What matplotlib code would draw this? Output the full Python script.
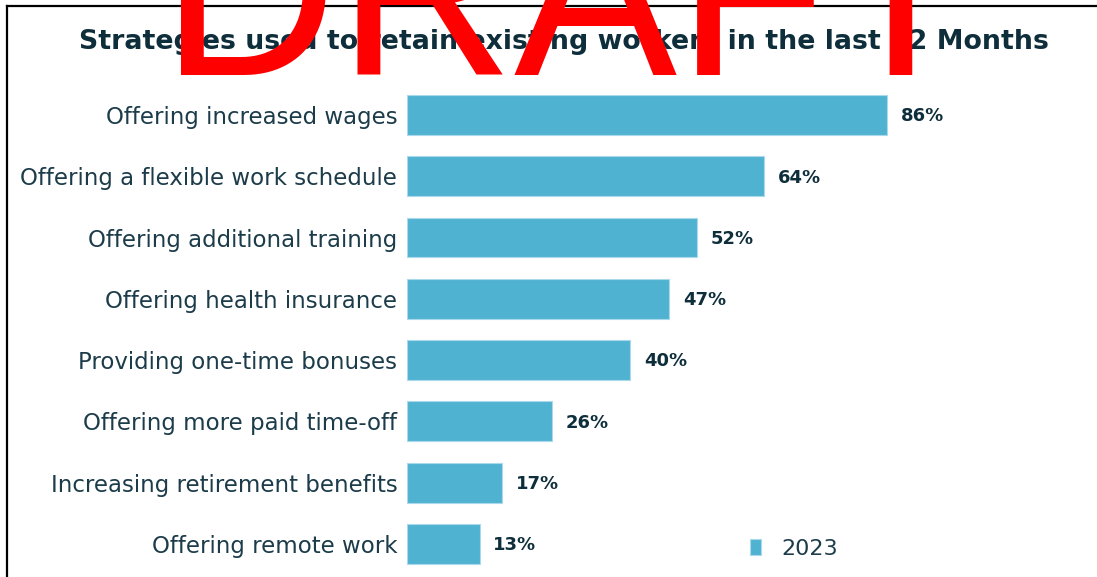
import matplotlib.pyplot as plt
from matplotlib.lines import Line2D

# survey results, share of respondents (%)
strategies = [
    "Offering increased wages",
    "Offering a flexible work schedule",
    "Offering additional training",
    "Offering health insurance",
    "Providing one-time bonuses",
    "Offering more paid time-off",
    "Increasing retirement benefits",
    "Offering remote work",
]
shares = [86, 64, 52, 47, 40, 26, 17, 13]
year_label = "2023"

bar_color = "#50b2d1"
dark = "#0e2e3b"
label_color = "#1c3c4a"

W, H = 1097, 577
fig = plt.figure(figsize=(W / 100, H / 100), dpi=100)
fig.patch.set_facecolor("white")

# bar area: left edge at ~407px, rows from ~84px to ~575px
ax = fig.add_axes([407 / W, 1 - 574.6 / H, 558 / W, 490.3 / H])
ypos = list(range(len(strategies)))
bars = ax.barh(ypos, shares, height=0.65, color=bar_color,
               edgecolor="#a9d9ea", linewidth=0.8, label=year_label)
ax.set_xlim(0, 100)
ax.set_ylim(len(strategies) - 0.5, -0.5)

ax.set_yticks(ypos)
ax.set_yticklabels(strategies, fontsize=16.5, color=label_color,
                   family="DejaVu Sans")
ax.tick_params(axis="y", length=0, pad=7)
ax.set_xticks([])
for s in ax.spines.values():
    s.set_visible(False)

for b, v in zip(bars, shares):
    ax.annotate(f"{v}%", (b.get_width(), b.get_y() + b.get_height() / 2),
                xytext=(10, -1), textcoords="offset points",
                ha="left", va="center", fontsize=13, fontweight="bold",
                color=dark)

ax.legend(loc="center left", bbox_to_anchor=(750 / W, 1 - 549 / H),
          bbox_transform=fig.transFigure, frameon=False, fontsize=16,
          handlelength=0.5, handleheight=0.73, handletextpad=0.9,
          borderpad=0, borderaxespad=0, labelcolor=label_color)

# title
fig.text(564 / W, 1 - 49 / H,
         "Strategies used to retain existing workers in the last 12 Months",
         ha="center", va="baseline", fontsize=19.3, fontweight="bold",
         color=dark, family="DejaVu Sans")

# frame lines
fig.add_artist(Line2D([7 / W, 7 / W], [0, 1 - 6 / H], color="black",
                      lw=1.6, transform=fig.transFigure))
fig.add_artist(Line2D([7 / W, 1], [1 - 6 / H, 1 - 6 / H], color="black",
                      lw=1.6, transform=fig.transFigure))

# watermark
fig.text(160.6 / W, 1 - 75 / H, "DRAFT", ha="left", va="baseline",
         fontsize=176, color="#ff0000", family="Liberation Sans", zorder=10)

fig.savefig("out.png", dpi=100)
